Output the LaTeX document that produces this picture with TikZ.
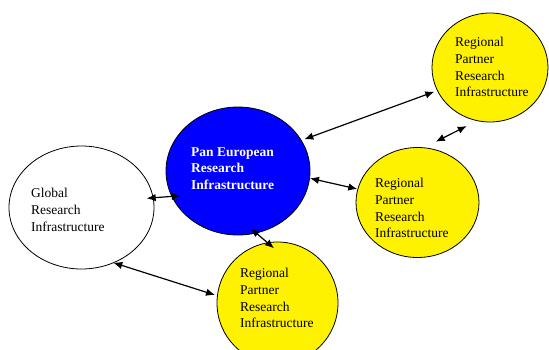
\documentclass[tikz,border=0pt]{standalone}
\usepackage{fontspec}
\setmainfont{Liberation Serif}
\usetikzlibrary{arrows.meta,shapes.geometric}
\begin{document}
\begin{tikzpicture}[x=1pt,y=-1pt,
  blob/.style={ellipse,draw=black,line width=0.8pt,inner sep=0pt},
  lbl/.style={anchor=north west,align=left,inner sep=0pt,font=\fontsize{13.5}{16.8}\selectfont},
  link/.style={line width=1.2pt,{Latex[length=9pt,width=7.5pt]}-{Latex[length=9pt,width=7.5pt]}}]
\useasboundingbox (0,0) rectangle (549,349);
\node[blob,fill=white,minimum width=145pt,minimum height=123pt] (glob) at (81.5,207.5) {};
\node[blob,fill=blue,minimum width=144pt,minimum height=128pt] (pan) at (238,171) {};
\node[blob,fill=yellow,minimum width=116pt,minimum height=109pt] (rtop) at (490,67.5) {};
\node[blob,fill=yellow,minimum width=123pt,minimum height=110pt] (rmid) at (417.5,202.5) {};
\node[blob,fill=yellow,minimum width=121pt,minimum height=122pt] (rbot) at (277.5,303) {};
\node[lbl] (tglob) at (31,188) {Global\\Research\\Infrastructure};
\node[lbl,text=white,font=\fontsize{13.5}{16.8}\selectfont\bfseries] (tpan) at (191,147) {Pan European\\Research\\Infrastructure};
\node[lbl] (trtop) at (455,37) {Regional\\Partner\\Research\\Infrastructure};
\node[lbl] (trmid) at (375,178) {Regional\\Partner\\Research\\Infrastructure};
\node[lbl] (trbot) at (240,268) {Regional\\Partner\\Research\\Infrastructure};
\coordinate (a1) at (304.3,139.3); \coordinate (b1) at (434.3,91.7);
\coordinate (a2) at (435.7,141.7); \coordinate (b2) at (466.7,126);
\coordinate (a3) at (310,178.3);   \coordinate (b3) at (357.3,189);
\coordinate (a4) at (146.7,198.3); \coordinate (b4) at (180.7,195.7);
\coordinate (a5) at (250.7,228.3); \coordinate (b5) at (274,248.3);
\coordinate (a6) at (113.3,262.7); \coordinate (b6) at (215,295);
\draw[link] (a1) -- (b1);
\draw[link] (a2) -- (b2);
\draw[link] (a3) -- (b3);
\draw[link] (a4) -- (b4);
\draw[link] (a5) -- (b5);
\draw[link] (a6) -- (b6);
\end{tikzpicture}
\end{document}
